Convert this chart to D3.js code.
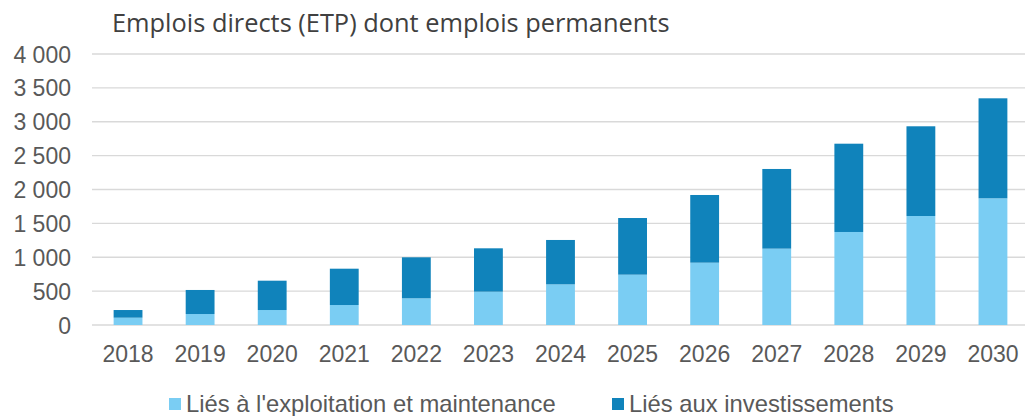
<!DOCTYPE html>
<html>
<head>
<meta charset="utf-8">
<script src="https://cdn.jsdelivr.net/npm/d3@7"></script>
<style>
	body { margin: 0; background: #ffffff; }
	svg text { font-family: "Liberation Sans", Arial, sans-serif; fill: #595959; }
</style>
</head>
<body>
<div id="chart"></div>
<script>
// years on the x axis
const YEARS = ["2018", "2019", "2020", "2021", "2022", "2023", "2024",
	"2025", "2026", "2027", "2028", "2029", "2030"];
// jobs linked to operation and maintenance (bottom part of each bar)
const EXPLOITATION = [108, 162, 221, 295, 394, 492, 600, 743, 920, 1127, 1373, 1609, 1870];
// jobs linked to investments (top part of each bar)
const INVESTISSEMENTS = [113, 355, 433, 536, 605, 640, 655, 836, 999, 1176, 1303, 1324, 1476];
// y axis ticks
const Y_TICKS = [0, 500, 1000, 1500, 2000, 2500, 3000, 3500, 4000];

const SERIES = ["Liés à l'exploitation et maintenance", "Liés aux investissements"];
const COLORS = ["#7acdf3", "#1083bb"];

const W = 1025;
const H = 416;

const svg = d3.select("#chart")
	.append("svg")
	.attr("width", W)
	.attr("height", H);

// building rows for the stack layout
const rows = YEARS.map(function(y, i) {
	return {year: y, expl: EXPLOITATION[i], inv: INVESTISSEMENTS[i]};
});

const x = d3.scaleBand()
	.domain(YEARS)
	.range([92, 1029])
	.paddingInner(0.6)
	.paddingOuter(0.3);

const y = d3.scaleLinear()
	.domain([0, 4000])
	.range([325, 54]);

// GRIDLINES
svg.append("g")
	.selectAll("line")
	.data(Y_TICKS)
	.enter()
	.append("line")
	.attr("x1", 92)
	.attr("x2", W)
	.attr("y1", function(d) { return y(d); })
	.attr("y2", function(d) { return y(d); })
	.attr("stroke", "#d9d9d9")
	.attr("stroke-width", 1.4);

// Y AXIS (labels only, french thousands separator)
const fmt = function(d) { return d3.format(",")(d).replace(/,/g, " "); };
const yAxis = svg.append("g")
	.attr("transform", "translate(71,0)")
	.call(d3.axisLeft(y).tickValues(Y_TICKS).tickSize(0).tickPadding(0).tickFormat(fmt));
yAxis.select(".domain").remove();
yAxis.selectAll("text")
	.attr("dy", "0.35em")
	.style("font-size", "23px")
	.attr("fill", "#595959");

// BARS
const stack = d3.stack().keys(["expl", "inv"]);
const layers = stack(rows);

svg.append("g")
	.selectAll("g")
	.data(layers)
	.enter()
	.append("g")
	.attr("fill", function(d, i) { return COLORS[i]; })
	.selectAll("rect")
	.data(function(d) { return d; })
	.enter()
	.append("rect")
	.attr("x", function(d) { return x(d.data.year); })
	.attr("y", function(d) { return y(d[1]); })
	.attr("width", x.bandwidth())
	.attr("height", function(d) { return y(d[0]) - y(d[1]); });

// X AXIS
const xAxis = svg.append("g")
	.attr("transform", "translate(0,325)")
	.call(d3.axisBottom(x).tickSize(0).tickPadding(0));
xAxis.select(".domain").remove();
xAxis.selectAll("text")
	.attr("y", 37)
	.attr("dy", 0)
	.style("font-size", "23px")
	.attr("fill", "#595959");

// TITLE (fitted to the width of the original)
const title = svg.append("text")
	.attr("x", 112)
	.attr("y", 32)
	.style("font-family", "'Open Sans', sans-serif")
	.style("font-size", "24px")
	.style("fill", "#404040")
	.text("Emplois directs (ETP) dont emplois permanents");
const tw = title.node().getComputedTextLength();
title.style("font-size", (24 * 558 / tw) + "px");

// LEGEND
const legendX = [169, 612];
const legend = svg.append("g");
SERIES.forEach(function(label, i) {
	legend.append("rect")
		.attr("x", legendX[i])
		.attr("y", 398)
		.attr("width", 12)
		.attr("height", 12)
		.attr("fill", COLORS[i]);
	legend.append("text")
		.attr("x", legendX[i] + 17)
		.attr("y", 412)
		.style("font-size", "23.8px")
		.text(label);
});
</script>
</body>
</html>
